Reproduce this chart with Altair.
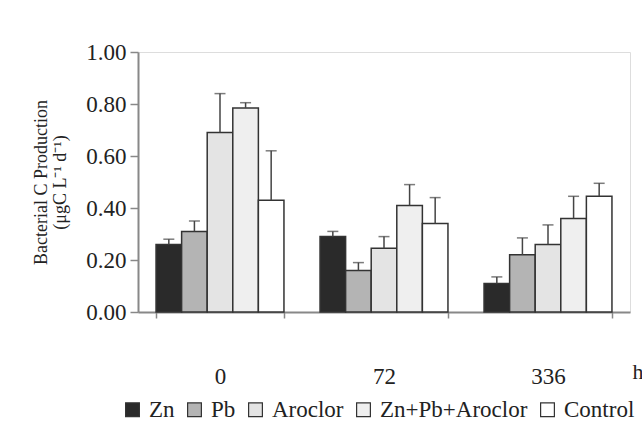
import altair as alt
import pandas as pd

times = ["0", "72", "336"]
treatments = ["Zn", "Pb", "Aroclor", "Zn+Pb+Aroclor", "Control"]
means = {
    "0":   [0.26, 0.31, 0.69, 0.785, 0.43],
    "72":  [0.29, 0.16, 0.245, 0.41, 0.34],
    "336": [0.11, 0.22, 0.26, 0.36, 0.445],
}
errors = {
    "0":   [0.02, 0.04, 0.15, 0.02, 0.19],
    "72":  [0.02, 0.03, 0.045, 0.08, 0.10],
    "336": [0.025, 0.065, 0.075, 0.085, 0.05],
}
fills = ["#2a2a2a", "#b4b4b4", "#e4e4e4", "#efefef", "#ffffff"]

rows = []
for t in times:
    for i, tr in enumerate(treatments):
        rows.append({"time": t, "treatment": tr, "mean": means[t][i],
                     "upper": means[t][i] + errors[t][i]})
df = pd.DataFrame(rows)

FONT = "Liberation Serif"

x = alt.X("time:N", sort=times,
          scale=alt.Scale(paddingInner=0.22, paddingOuter=0.11),
          axis=alt.Axis(title="h", labelAngle=0, labelPadding=47,
                        tickBand="extent", tickSize=6,
                        titleX=494, titleY=66, titleAlign="left",
                        titleBaseline="alphabetic", titleAnchor="start"))
xo = alt.XOffset("treatment:N", sort=treatments, scale=alt.Scale(paddingInner=0, paddingOuter=0))

y = alt.Y("mean:Q", scale=alt.Scale(domain=[0, 1]),
          axis=alt.Axis(title=["Bacterial C Production", "(μgC L\u207b\u00b9 d\u207b\u00b9)"],
                        values=[0, 0.2, 0.4, 0.6, 0.8, 1.0], format=".2f",
                        tickSize=8, labelPadding=4, titleFontSize=18,
                        titlePadding=16, titleLineHeight=19))

bars = alt.Chart(df).mark_bar(stroke="#333", strokeWidth=1.5).encode(
    x=x,
    xOffset=xo,
    y=y,
    fill=alt.Fill("treatment:N", sort=treatments,
                  scale=alt.Scale(domain=treatments, range=fills),
                  legend=alt.Legend(title=None, orient="none", direction="horizontal",
                                    legendX=-17, legendY=346, labelFont=FONT,
                                    labelFontSize=23, labelColor="#222",
                                    symbolType="square", symbolSize=190,
                                    symbolStrokeColor="#333", symbolStrokeWidth=1.2,
                                    columnPadding=8, symbolOffset=0, labelOffset=5)),
)

rules = alt.Chart(df).mark_rule(color="#444", strokeWidth=1.5).encode(
    x=x, xOffset=xo, y=y, y2="upper:Q")

caps = alt.Chart(df).mark_tick(color="#444", thickness=1.5, size=11).encode(
    x=x, xOffset=xo, y="upper:Q")

chart = alt.layer(bars, rules, caps).properties(
    width=492, height=260,
    padding={"left": 138, "top": 52, "right": 12, "bottom": 113},
    autosize=alt.AutoSizeParams(type="none"),
).configure_view(stroke=None).configure(background="white").configure_axis(
    grid=False, labelFont=FONT, labelFontSize=23, labelColor="#222",
    domainColor="#888", domainWidth=2, tickColor="#888", tickWidth=1.5,
    titleFont=FONT, titleFontSize=22, titleFontWeight="normal", titleColor="#222",
)

chart.save("out.html", embed_options={"renderer": "svg", "actions": False})
